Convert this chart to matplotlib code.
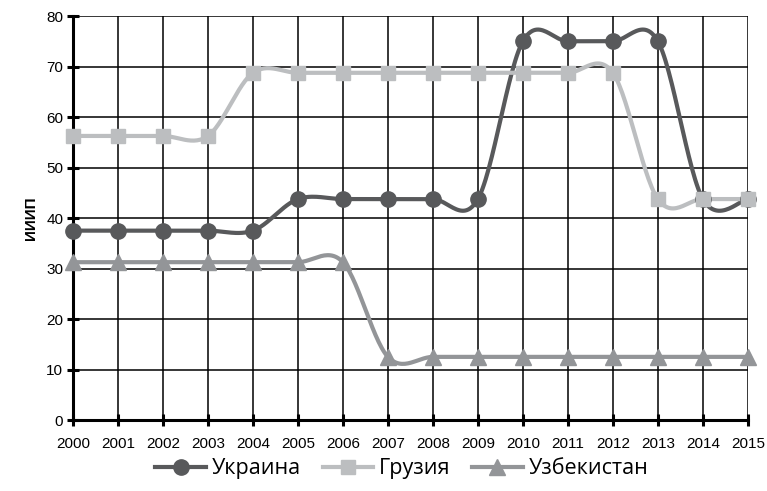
import numpy as np
import matplotlib
matplotlib.use('Agg')
from matplotlib import pyplot as plt

years = list(range(2000, 2016))
ukraine = [37.5, 37.5, 37.5, 37.5, 37.5, 43.75, 43.75, 43.75, 43.75, 43.75,
           75, 75, 75, 75, 43.75, 43.75]
georgia = [56.25, 56.25, 56.25, 56.25, 68.75, 68.75, 68.75, 68.75, 68.75, 68.75,
           68.75, 68.75, 68.75, 43.75, 43.75, 43.75]
uzbek = [31.25, 31.25, 31.25, 31.25, 31.25, 31.25, 31.25, 12.5, 12.5, 12.5,
         12.5, 12.5, 12.5, 12.5, 12.5, 12.5]
names = ['Украина', 'Грузия', 'Узбекистан']


def smooth(x, y, n=30):
    # excel-like smoothed line: cubic bezier, control points from neighbours
    x = np.asarray(x, float)
    y = np.asarray(y, float)
    xs, ys = [], []
    for i in range(len(x) - 1):
        p0 = np.array([x[max(i - 1, 0)], y[max(i - 1, 0)]])
        p1 = np.array([x[i], y[i]])
        p2 = np.array([x[i + 1], y[i + 1]])
        p3 = np.array([x[min(i + 2, len(x) - 1)], y[min(i + 2, len(x) - 1)]])
        c1 = p1 + (p2 - p0) / 6
        c2 = p2 - (p3 - p1) / 6
        t = np.linspace(0, 1, n)[:, None]
        pts = ((1 - t) ** 3) * p1 + 3 * ((1 - t) ** 2) * t * c1 \
            + 3 * (1 - t) * t ** 2 * c2 + t ** 3 * p2
        xs.extend(pts[:, 0])
        ys.extend(pts[:, 1])
    return xs, ys


fig = plt.figure(figsize=(7.67, 4.91), dpi=100)
ax = fig.add_axes([0.0952, 0.1446, 0.8798, 0.8228])

styles = [(ukraine, '#58595b', 'o', 11), (georgia, '#bcbec0', 's', 9.5),
          (uzbek, '#939598', '^', 11)]
handles = []
for (vals, col, mk, ms), name in zip(styles, names):
    sx, sy = smooth(years, vals)
    ax.plot(sx, sy, color=col, lw=3, zorder=3, solid_capstyle='round',
            clip_on=False)
    ax.plot(years, vals, ls='none', marker=mk, ms=ms, color=col, zorder=4,
            clip_on=False)
    h, = ax.plot([], [], color=col, lw=3, marker=mk, ms=ms)
    handles.append(h)

ax.set_xlim(2000, 2015)
ax.set_ylim(0, 80)
ax.set_xticks(years)
ax.set_yticks(range(0, 81, 10))
ax.grid(True, color='black', lw=1.1)
ax.set_axisbelow(True)
for s in ['top', 'right']:
    ax.spines[s].set_visible(False)
for s in ['left', 'bottom']:
    ax.spines[s].set_linewidth(2.2)
ax.tick_params(direction='inout', length=8, width=2.2, labelsize=11)
ax.tick_params(axis='x', pad=8)
ax.tick_params(axis='y', pad=3)
for lab in ax.get_xticklabels() + ax.get_yticklabels():
    lab.set_fontfamily('Liberation Sans')
ax.set_ylabel('ИИИП', fontsize=11, fontweight='bold', family='Liberation Sans',
              labelpad=6)

fig.legend(handles, names, loc='center', bbox_to_anchor=(0.524, 0.045),
           ncol=3, frameon=False, handlelength=2.35,
           columnspacing=1.0, handletextpad=0.28,
           prop={'family': 'Open Sans', 'size': 15.5})

fig.savefig('out.png', dpi=100)
